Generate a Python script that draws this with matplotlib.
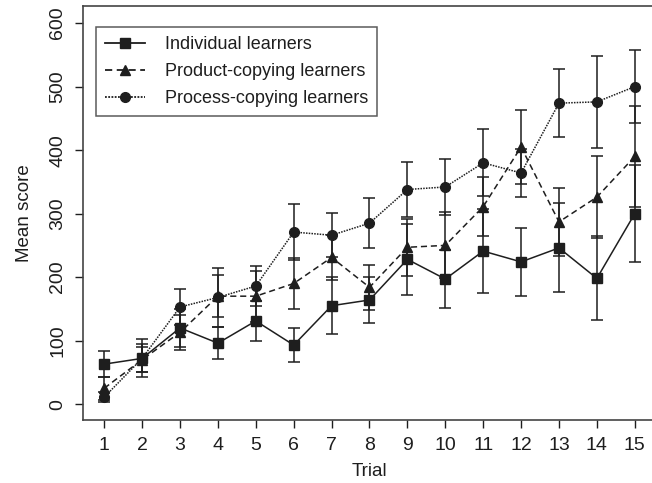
import numpy as np
import matplotlib.pyplot as plt
from matplotlib.lines import Line2D

plt.rcParams['font.family'] = ['Liberation Sans', 'DejaVu Sans']

# Mean score per trial with error bar half-widths
trials = np.arange(1, 16)

ind_mean = [63, 72, 120, 96, 131, 93, 155, 164, 228, 197, 241, 224, 246, 198, 300]
ind_err = [21, 30, 30, 25, 31, 27, 45, 36, 56, 46, 66, 54, 70, 66, 76]

prod_mean = [25, 70, 113, 170, 170, 190, 231, 184, 247, 250, 311, 405, 287, 326, 390]
prod_err = [18, 20, 27, 33, 40, 40, 36, 35, 45, 52, 46, 59, 53, 65, 79]

proc_mean = [11, 72, 153, 168, 186, 271, 266, 285, 338, 342, 380, 364, 474, 476, 500]
proc_err = [8, 22, 29, 46, 31, 44, 35, 39, 43, 44, 53, 38, 53, 72, 58]

ink = '#1e1e1e'
W, H = 652, 483

fig = plt.figure(figsize=(W / 100, H / 100), dpi=100)
ax = fig.add_axes([83 / W, 1 - 420 / H, (656 - 83) / W, (420 - 6) / H])

common = dict(color=ink, ecolor=ink, elinewidth=1.1, capsize=4.5, capthick=1.1,
              linewidth=1.1, markersize=7)

series = [
    (ind_mean, ind_err, 's', '-', 'Individual learners'),
    (prod_mean, prod_err, '^', (0, (4, 2.5)), 'Product-copying learners'),
    (proc_mean, proc_err, 'o', (0, (1, 0.8)), 'Process-copying learners'),
]

handles = []
for mean, err, mk, ls, name in series:
    ax.errorbar(trials, mean, yerr=err, marker=mk, linestyle=ls, **common)
    handles.append(Line2D([], [], color=ink, marker=mk, linestyle=ls,
                          linewidth=1.3, markersize=7, label=name))

ax.set_xlim(0.44, 15.56)
ax.set_ylim(-25, 627)
ax.set_xticks(trials)
ax.set_yticks(np.arange(0, 601, 100))
ax.tick_params(direction='out', length=6, width=1, colors=ink, labelsize=14, pad=6)
for lbl in ax.get_yticklabels():
    lbl.set_rotation(90)
    lbl.set_va('center')

for sp in ax.spines.values():
    sp.set_color('#444444')
    sp.set_linewidth(1.2)

ax.set_xlabel('Trial', fontsize=13.5, color=ink, labelpad=7)
ax.set_ylabel('Mean score', fontsize=13.5, color=ink, labelpad=12)

leg = ax.legend(handles=handles, loc='upper left',
                bbox_to_anchor=((96 - 83) / 573, (420 - 27) / 414),
                fontsize=13, frameon=True, fancybox=False, handlelength=2.2,
                handletextpad=1.1, labelspacing=0.55, borderpad=0.5,
                borderaxespad=0)
leg.get_frame().set_edgecolor('#333333')
leg.get_frame().set_linewidth(1.1)
for t in leg.get_texts():
    t.set_color(ink)

fig.savefig('out.png', dpi=100)
